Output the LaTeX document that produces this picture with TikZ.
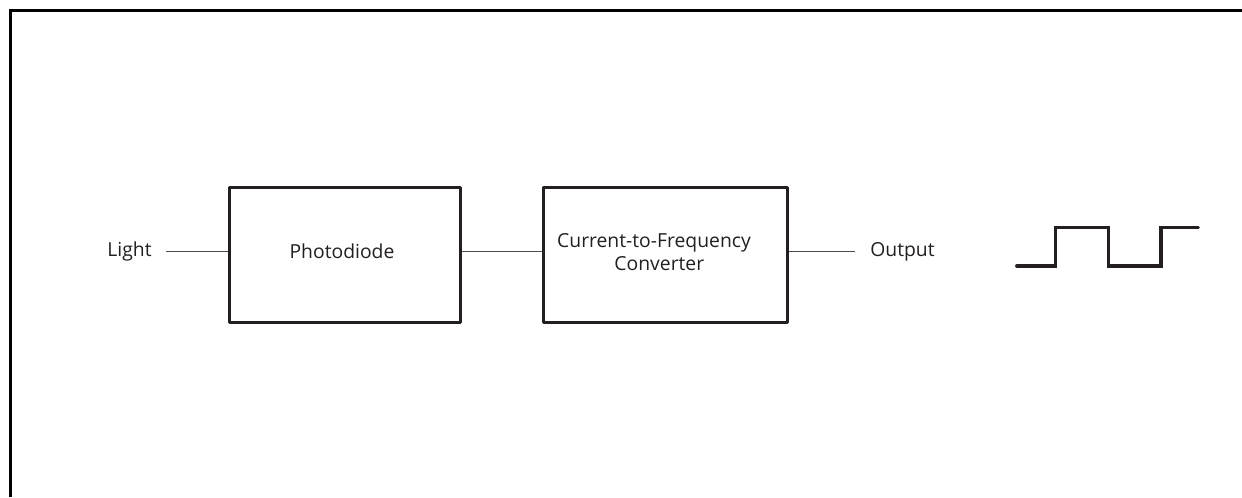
\documentclass[tikz,border=0pt]{standalone}
\usepackage{fontspec}
\setmainfont{Open Sans}
\definecolor{ink}{HTML}{231F20}
\begin{document}
\begin{tikzpicture}[x=0.75pt,y=-0.75pt,
  frame/.style={line width=2pt,draw=black},
  block/.style={draw=ink,line width=2.2pt,rectangle,minimum height=101.5pt,inner sep=0pt,line join=round},
  lbl/.style={text=ink,font=\fontsize{14.5}{17.25}\selectfont,inner sep=0pt},
  wire/.style={draw=ink!80,line width=0.8pt},
  wave/.style={draw=ink,line width=2.4pt,line cap=round,line join=miter}]
\useasboundingbox (0,0) rectangle (1242,497);
\draw[frame] (10.5,497) -- (10.5,10.5) -- (1242,10.5);
\node[block,minimum width=173.5pt] (pd) at (345,255) {};
\node[block,minimum width=183pt] (cf) at (665.3,255) {};
\node[lbl] (light) at (129.5,251.7) {Light};
\node[lbl] (pdt) at (342,251.7) {Photodiode};
\node[lbl,align=center] (cft) at (654,251.7) {Current-to-Frequency\\\hspace*{8pt}Converter};
\node[lbl] (out) at (902.5,251.7) {Output};
\coordinate (ls) at (166,251.7);
\coordinate (oe) at (855,251.7);
\draw[wire] (ls) -- (ls -| pd.west);
\draw[wire] (ls -| pd.east) -- (ls -| cf.west);
\draw[wire] (ls -| cf.east) -- (oe);
\coordinate (w0) at (1016.7,266);
\draw[wave] (w0) -- (1055.7,266) -- (1055.7,227.3) -- (1108.3,227.3) -- (1108.3,266) -- (1161,266) -- (1161,227.3) -- (1198.3,227.3);
\end{tikzpicture}
\end{document}
